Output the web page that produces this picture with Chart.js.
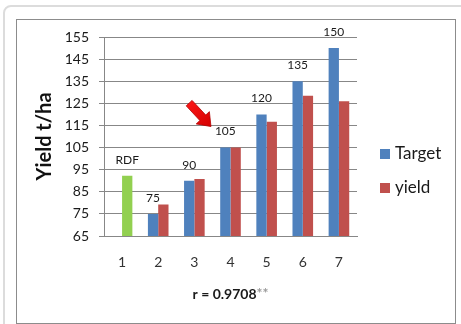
<!DOCTYPE html>
<html>
<head>
<meta charset="utf-8">
<title>Yield t/ha</title>
<script src="https://cdn.jsdelivr.net/npm/chart.js@4.4.1/dist/chart.umd.min.js"></script>
<style>
  html, body { margin: 0; padding: 0; background: #fff; }
  #wrap { position: relative; width: 461px; height: 324px; overflow: hidden; }
  #outer { position: absolute; left: 3px; top: 5px; width: 490px; height: 350px;
           border: 2px solid #dcdcdc; border-radius: 8px; box-sizing: border-box; }
  #inner { position: absolute; left: 16px; top: 19px; width: 440px; height: 305px;
           border: 1px solid #8c8c8c; box-sizing: border-box; }
  canvas { position: absolute; left: 0; top: 0; }
</style>
</head>
<body>
<div id="wrap">
  <div id="outer"></div>
  <div id="inner"></div>
  <canvas id="chart" width="461" height="324"></canvas>
</div>
<script>
// Treatments on the x axis
const categories = ['1', '2', '3', '4', '5', '6', '7'];
// Targeted yield (t/ha); treatment 1 (RDF) has no target
const targetYield = [null, 75, 90, 105, 120, 135, 150];
// Achieved yield (t/ha); treatment 1 is the RDF check
const achievedYield = [92.3, 79.3, 90.8, 105, 116.7, 128.4, 125.9];
const seriesNames = ['Target', 'yield'];
const checkLabel = 'RDF';
// Value axis range and step
const yMin = 65;
const yMax = 155;
const yStep = 10;
const axisTitle = 'Yield t/ha';
const correlationText = 'r = 0.9708';
const significanceMark = '**';

const BLUE = '#4F81BD';
const RED = '#C0504D';
const GREEN = '#92D050';
const GRID = '#878787';
const FONT = 'Lato, "Open Sans", sans-serif';

// Numbers above the target bars and the RDF tag above the check bar
const barLabels = {
  id: 'barLabels',
  afterDatasetsDraw(chart) {
    const ctx = chart.ctx;
    ctx.save();
    ctx.font = '12px ' + FONT;
    ctx.fillStyle = '#1a1a1a';
    ctx.textAlign = 'center';
    ctx.textBaseline = 'middle';
    const tMeta = chart.getDatasetMeta(0);
    targetYield.forEach((v, i) => {
      if (v === null) return;
      const bar = tMeta.data[i];
      ctx.fillText(String(v), bar.x, bar.y - 16);
    });
    const yBar = chart.getDatasetMeta(1).data[0];
    ctx.fillText(checkLabel, yBar.x, yBar.y - 16);
    ctx.restore();
  }
};

// Red pointer arrow aimed at treatment 4
const pointer = {
  id: 'pointer',
  afterDatasetsDraw(chart) {
    const {ctx, scales: {x, y}} = chart;
    const tx = x.getPixelForValue(2.46);
    const ty = y.getPixelForValue(114.5);
    const ang = 47 * Math.PI / 180;
    const dx = Math.cos(ang), dy = Math.sin(ang);
    const nx = -dy, ny = dx;
    const total = 32, head = 12, headHalf = 9, shaftHalf = 4;
    const bx = tx - dx * head, by = ty - dy * head;
    const sx = tx - dx * total, sy = ty - dy * total;
    ctx.save();
    ctx.beginPath();
    ctx.moveTo(tx, ty);
    ctx.lineTo(bx + nx * headHalf, by + ny * headHalf);
    ctx.lineTo(bx + nx * shaftHalf, by + ny * shaftHalf);
    ctx.lineTo(sx + nx * shaftHalf, sy + ny * shaftHalf);
    ctx.lineTo(sx - nx * shaftHalf, sy - ny * shaftHalf);
    ctx.lineTo(bx - nx * shaftHalf, by - ny * shaftHalf);
    ctx.lineTo(bx - nx * headHalf, by - ny * headHalf);
    ctx.closePath();
    const g = ctx.createLinearGradient(sx, sy - 6, tx, ty);
    g.addColorStop(0, '#ff1a1a');
    g.addColorStop(1, '#d40000');
    ctx.fillStyle = g;
    ctx.fill();
    ctx.strokeStyle = '#b30000';
    ctx.lineWidth = 0.8;
    ctx.stroke();
    ctx.restore();
  }
};

// Legend on the right and the correlation caption under the axis
const sideLegend = {
  id: 'sideLegend',
  afterDraw(chart) {
    const {ctx, chartArea} = chart;
    const colors = [BLUE, RED];
    const lx = chartArea.right + 23;
    ctx.save();
    ctx.font = '17px ' + FONT;
    ctx.textBaseline = 'middle';
    ctx.textAlign = 'left';
    seriesNames.forEach((name, i) => {
      const cy = 154 + i * 34;
      ctx.fillStyle = colors[i];
      ctx.fillRect(lx, cy - 5, 10, 10);
      ctx.fillStyle = '#1a1a1a';
      ctx.fillText(name, lx + 15, cy);
    });

    ctx.font = 'bold 14px ' + FONT;
    const w1 = ctx.measureText(correlationText).width;
    const w2 = ctx.measureText(significanceMark).width;
    const cx = (chartArea.left + chartArea.right) / 2;
    const cy = chartArea.bottom + 58;
    const start = cx - (w1 + w2) / 2;
    ctx.fillStyle = '#1a1a1a';
    ctx.fillText(correlationText, start, cy);
    ctx.fillStyle = '#9a9a9a';
    ctx.fillText(significanceMark, start + w1, cy - 1);
    ctx.restore();
  }
};

function draw() {
  new Chart(document.getElementById('chart'), {
    type: 'bar',
    data: {
      labels: categories,
      datasets: [
        {
          label: seriesNames[0],
          data: targetYield,
          backgroundColor: BLUE,
          borderWidth: 0,
          categoryPercentage: 0.57,
          barPercentage: 1.0
        },
        {
          label: seriesNames[1],
          data: achievedYield,
          backgroundColor: achievedYield.map((v, i) => (i === 0 ? GREEN : RED)),
          borderWidth: 0,
          categoryPercentage: 0.57,
          barPercentage: 1.0
        }
      ]
    },
    options: {
      responsive: false,
      animation: false,
      layout: { padding: { top: 37, right: 104, bottom: 0, left: 0 } },
      plugins: {
        legend: { display: false },
        tooltip: { enabled: false },
        title: { display: false }
      },
      scales: {
        x: {
          grid: { display: false, drawTicks: false },
          border: { display: true, color: GRID },
          ticks: { color: '#333', font: { family: FONT, size: 14 }, padding: 18 },
          afterFit(scale) { scale.height = 88; }
        },
        y: {
          min: yMin,
          max: yMax,
          ticks: { stepSize: yStep, color: '#1a1a1a', font: { family: FONT, size: 14 }, padding: 10 },
          grid: { color: GRID, tickColor: GRID, tickLength: 5 },
          border: { display: true, color: GRID },
          title: {
            display: true,
            text: axisTitle,
            color: '#111',
            font: { family: FONT, size: 20, weight: 'bold' },
            padding: { top: 33, bottom: 0 }
          },
          afterFit(scale) { scale.width = 104; }
        }
      }
    },
    plugins: [barLabels, pointer, sideLegend]
  });
}

if (document.fonts && document.fonts.load) {
  Promise.all([
    document.fonts.load('14px Lato'),
    document.fonts.load('bold 14px Lato')
  ]).then(draw, draw);
} else {
  draw();
}
</script>
</body>
</html>
